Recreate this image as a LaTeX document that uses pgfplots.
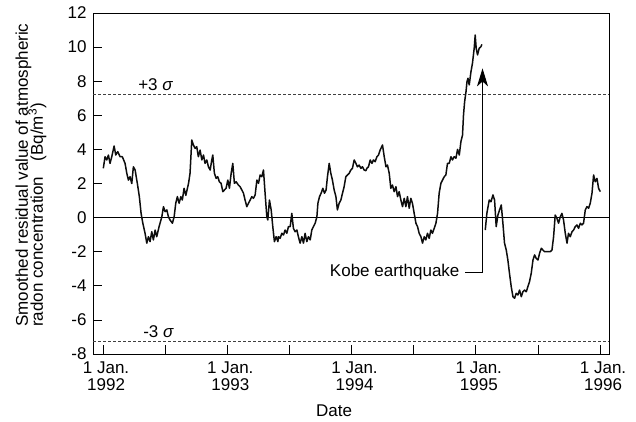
\documentclass[border=0pt]{standalone}
\usepackage{fontspec}
\setmainfont{Liberation Sans}
\usepackage{pgfplots}
\pgfplotsset{compat=1.18}
\usetikzlibrary{arrows.meta}

% smoothed residual radon, before the Kobe earthquake
\pgfplotstableread{
x y
1992.002 2.89
1992.016 3.57
1992.030 3.38
1992.043 3.67
1992.056 3.18
1992.070 3.57
1992.089 4.20
1992.102 3.67
1992.118 3.87
1992.137 3.57
1992.155 3.57
1992.177 3.18
1992.191 2.60
1992.204 2.20
1992.217 2.40
1992.231 2.00
1992.244 2.98
1992.258 2.79
1992.276 2.00
1992.292 1.23
1992.306 0.25
1992.320 -0.33
1992.338 -0.92
1992.352 -1.50
1992.365 -1.12
1992.378 -1.41
1992.392 -0.83
1992.405 -1.31
1992.419 -0.73
1992.432 -1.12
1992.451 -0.53
1992.473 0.05
1992.486 0.64
1992.499 0.35
1992.513 0.45
1992.526 0.05
1992.539 -0.14
1992.558 -0.33
1992.572 0.05
1992.585 0.84
1992.598 1.23
1992.612 0.84
1992.626 1.23
1992.638 1.03
1992.652 1.72
1992.666 1.30
1992.688 2.01
1992.700 2.60
1992.714 4.55
1992.727 4.26
1992.741 4.06
1992.754 4.16
1992.767 3.57
1992.781 3.96
1992.795 3.38
1992.808 3.67
1992.821 3.18
1992.835 3.38
1992.848 2.98
1992.862 2.79
1992.875 3.38
1992.883 3.67
1992.896 2.60
1992.910 2.30
1992.923 2.40
1992.936 2.10
1992.950 2.01
1992.964 1.52
1992.977 1.62
1992.990 1.72
1993.004 2.20
1993.017 1.72
1993.031 2.60
1993.044 3.18
1993.057 2.01
1993.071 2.10
1993.089 1.91
1993.103 1.81
1993.117 1.62
1993.130 1.43
1993.143 1.03
1993.157 0.64
1993.170 0.84
1993.184 1.03
1993.197 1.23
1993.210 1.13
1993.224 1.33
1993.238 2.20
1993.251 2.01
1993.264 2.50
1993.278 2.40
1993.291 2.79
1993.304 1.43
1993.318 0.05
1993.326 -0.14
1993.339 1.03
1993.353 0.45
1993.366 -0.53
1993.379 -1.41
1993.393 -1.12
1993.407 -1.41
1993.411 -1.12
1993.425 -1.22
1993.439 -0.92
1993.452 -1.02
1993.465 -0.73
1993.479 -0.92
1993.492 -0.53
1993.506 -0.53
1993.519 0.25
1993.532 -0.63
1993.546 -0.83
1993.560 -0.73
1993.572 -1.12
1993.586 -1.50
1993.600 -1.12
1993.613 -1.50
1993.626 -0.92
1993.640 -1.41
1993.653 -1.12
1993.667 -1.31
1993.680 -0.73
1993.693 -0.53
1993.707 -0.33
1993.721 0.05
1993.729 0.84
1993.742 1.23
1993.755 1.43
1993.769 1.72
1993.782 1.43
1993.795 1.62
1993.806 2.40
1993.820 3.18
1993.833 2.60
1993.846 2.20
1993.860 1.62
1993.874 1.23
1993.886 0.45
1993.900 0.84
1993.914 1.03
1993.927 1.43
1993.940 1.81
1993.954 2.40
1993.967 2.50
1993.981 2.60
1993.994 2.79
1994.007 2.89
1994.021 3.38
1994.035 3.18
1994.047 2.98
1994.061 3.08
1994.075 2.89
1994.088 2.98
1994.101 2.79
1994.115 2.75
1994.123 2.89
1994.136 2.98
1994.150 3.38
1994.164 3.18
1994.176 3.38
1994.190 3.28
1994.204 3.57
1994.217 3.67
1994.230 3.96
1994.249 4.26
1994.263 3.57
1994.277 2.98
1994.289 3.08
1994.303 2.60
1994.316 1.72
1994.329 1.91
1994.343 1.52
1994.357 1.81
1994.370 1.23
1994.383 1.52
1994.397 1.03
1994.410 0.64
1994.424 1.13
1994.437 0.64
1994.450 1.23
1994.464 0.55
1994.477 1.13
1994.490 0.84
1994.504 0.25
1994.518 -0.33
1994.531 -0.53
1994.544 -0.92
1994.558 -1.12
1994.571 -1.50
1994.585 -1.12
1994.598 -1.31
1994.611 -0.92
1994.625 -1.22
1994.638 -0.73
1994.651 -0.92
1994.665 -0.63
1994.679 -0.33
1994.692 0.25
1994.705 1.43
1994.719 2.01
1994.732 2.20
1994.746 2.40
1994.759 2.50
1994.772 3.18
1994.786 3.18
1994.800 3.57
1994.812 3.38
1994.826 3.57
1994.840 3.48
1994.853 4.00
1994.867 3.67
1994.880 4.45
1994.893 4.84
1994.901 6.02
1994.910 6.80
1994.921 7.38
1994.929 7.97
1994.937 8.17
1994.947 7.78
1994.961 8.56
1994.973 9.05
1994.987 9.93
1994.995 10.71
1995.003 9.93
1995.014 9.54
1995.027 9.93
1995.041 10.02
1995.049 10.16
}\before

% after the earthquake
\pgfplotstableread{
x y
1995.076 -0.73
1995.089 0.25
1995.108 1.03
1995.122 0.93
1995.138 1.33
1995.151 1.03
1995.164 -0.53
1995.178 0.15
1995.191 0.45
1995.205 0.74
1995.218 -0.33
1995.231 -1.50
1995.245 -1.90
1995.258 -2.49
1995.271 -3.27
1995.285 -4.05
1995.299 -4.64
1995.312 -4.73
1995.325 -4.44
1995.339 -4.54
1995.352 -4.25
1995.366 -4.64
1995.379 -4.35
1995.392 -4.25
1995.406 -4.35
1995.419 -4.05
1995.432 -3.76
1995.446 -3.27
1995.460 -2.49
1995.473 -2.19
1995.486 -2.39
1995.500 -2.49
1995.513 -2.10
1995.527 -1.80
1995.540 -1.90
1995.553 -2.00
1995.572 -2.00
1995.599 -2.00
1995.613 -1.90
1995.626 -1.12
1995.639 0.15
1995.653 -0.04
1995.666 -0.33
1995.680 0.05
1995.693 0.25
1995.706 -0.14
1995.720 -0.92
1995.734 -1.50
1995.746 -0.92
1995.760 -1.12
1995.774 -0.83
1995.787 -0.73
1995.800 -0.53
1995.814 -0.43
1995.827 -0.63
1995.841 -0.33
1995.854 -0.43
1995.867 -0.33
1995.881 0.45
1995.894 0.64
1995.908 0.55
1995.921 0.84
1995.935 1.43
1995.948 2.50
1995.961 2.10
1995.975 2.30
1995.988 1.72
1996.002 1.52
}\after

\begin{document}
\begin{tikzpicture}[font=\fontsize{17}{15}\selectfont]
\useasboundingbox (0,0) rectangle (636pt,422pt);
\begin{axis}[
    at={(93pt,68pt)}, anchor=south west,
    width=516pt, height=341pt, scale only axis,
    xmin=1991.919, xmax=1996.072,
    ymin=-8, ymax=12,
    xtick={1992,1993,1994,1995,1996},
    xticklabels={{1 Jan.\\1992},{1 Jan.\\1993},{1 Jan.\\1994},{1 Jan.\\1995},{1 Jan.\\1996}},
    minor xtick={1992.5,1993.5,1994.5,1995.5},
    ytick={-8,-6,...,12},
    tick align=inside, tick pos=left,
    major tick length=9pt, minor tick length=9pt,
    every tick/.style={black, line width=0.7pt},
    axis line style={black, line width=0.8pt},
    ticklabel style={font=\fontsize{17}{15}\selectfont},
    x tick label style={align=center, xshift=3pt, yshift=-4pt,
        font=\fontsize{17}{17}\selectfont},
    y tick label style={xshift=-3pt},
    /pgf/number format/assume math mode=true,
    clip=false,
]
\addplot[black, line width=0.6pt] coordinates {(1991.919,0) (1996.072,0)};
\addplot[black!75, line width=0.6pt, dash pattern=on 3pt off 2pt] coordinates {(1991.919,7.25) (1996.072,7.25)};
\addplot[black!75, line width=0.6pt, dash pattern=on 3pt off 2pt] coordinates {(1991.919,-7.25) (1996.072,-7.25)};
\addplot[black!95, line width=1.5pt, line join=round] table {\before};
\addplot[black!95, line width=1.5pt, line join=round] table {\after};

\node[anchor=base west, inner sep=0pt] at (axis cs:1992.282,7.48) {+3 \textit{σ}};
\node[anchor=base west, inner sep=0pt] at (axis cs:1992.322,-7.06) {-3 \textit{σ}};

\draw[black, line width=0.8pt, -{Stealth[length=18pt, width=11pt, inset=5pt]}]
    (axis cs:1994.915,-3.19) -| (axis cs:1995.054,8.75);
\node[anchor=east, inner sep=0pt] at (axis cs:1994.870,-3.19) {Kobe earthquake};
\end{axis}
\node[rotate=90, anchor=base west, inner sep=0pt] at (28pt,95pt) {Smoothed residual value of atmospheric};
\node[rotate=90, anchor=base west, inner sep=0pt] at (43pt,95pt) {radon concentration\hspace{0.9em}(Bq/m\textsuperscript{3})};
\node[anchor=base, inner sep=0pt] at (334pt,5pt) {Date};
\end{tikzpicture}
\end{document}
